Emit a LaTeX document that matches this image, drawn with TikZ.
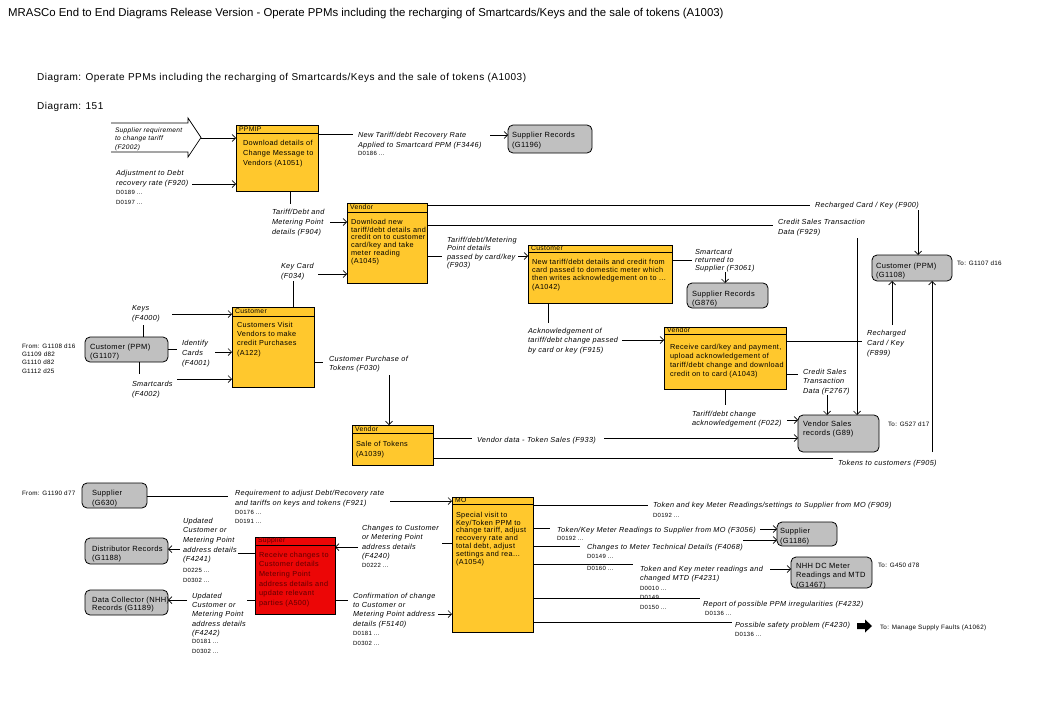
\documentclass[tikz,border=0pt]{standalone}
\usepackage{fontspec}
\setmainfont{Liberation Sans}[LetterSpace=5]
\newfontfamily\titlefont{Liberation Sans}
\usetikzlibrary{arrows.meta,fit}
\definecolor{ppmy}{RGB}{255,200,45}
\definecolor{ppmred}{RGB}{236,6,6}
\definecolor{ppmdred}{RGB}{95,0,0}
\definecolor{ppmgray}{RGB}{192,192,192}
\def\lsp{8.5}
\tikzset{
  ls/.code={\def\lsp{#1}},
  pbox/.style={draw=black, line width=0.8pt, fill=ppmy, inner sep=0pt, outer sep=0pt},
  rbox/.style={pbox, fill=ppmred},
  gbox/.style={draw=black, line width=0.8pt, fill=ppmgray, rounded corners=5pt, inner sep=0pt, outer sep=0pt},
  txt/.style={anchor=north west, inner sep=0pt, outer sep=0pt, align=left, font=\fontsize{7.3}{\lsp}\selectfont},
  rtxt/.style={txt, text=ppmdred},
  gtxt/.style={txt, font=\fontsize{7.5}{\lsp}\selectfont},
  lab/.style={txt, font=\fontsize{7.3}{\lsp}\selectfont\itshape},
  labs/.style={txt, font=\fontsize{6.6}{\lsp}\selectfont\itshape},
  dref/.style={txt, font=\fontsize{6}{\lsp}\selectfont},
  totxt/.style={txt, font=\fontsize{6.3}{\lsp}\selectfont},
  hdr/.style={anchor=west, inner sep=0pt, outer sep=0pt, font=\fontsize{6.8}{8}\selectfont},
  ln/.style={line width=0.7pt},
  arr/.style={ln, -{Straight Barb[length=3.5pt,width=7pt,line width=0.7pt]}},
}
% style, name, x, first-line centre y, line spacing, text
\newcommand{\TX}[6]{\node[#1, ls=#5] (#2) at ({#3},{#4-3.7}) {\rule{0pt}{6pt}#6};}
% style, name, x1, y1, x2, y2, header-band bottom, header
\newcommand{\PB}[8]{%
  \node[#1, fit={(#3,#4)(#5,#6)}] (#2) {};
  \draw[line width=0.6pt] (#2.west |- 0,#7) -- (#2.east |- 0,#7);
  \node[hdr] (#2h) at ({#3+3},{(#4+#7)/2}) {#8};}
\newcommand{\GB}[5]{\node[gbox, fit={(#2,#3)(#4,#5)}] (#1) {};}
\begin{document}
\begin{tikzpicture}[x=1pt,y=-1pt]
\useasboundingbox (0,0) rectangle (1040,720);
\fill[white] (0,0) rectangle (1040,720);

% titles
\node[anchor=west, inner sep=0pt, font=\titlefont\fontsize{11.4}{13}\selectfont] (title) at (8,14) {MRASCo End to End Diagrams Release Version - Operate PPMs including the recharging of Smartcards/Keys and the sale of tokens (A1003)};
\node[anchor=west, inner sep=0pt, font=\fontsize{10}{12}\selectfont] (diag) at (37,78) {Diagram: Operate PPMs including the recharging of Smartcards/Keys and the sale of tokens (A1003)};
\node[anchor=west, inner sep=0pt, font=\fontsize{10}{12}\selectfont] (diagno) at (37,107) {Diagram: 151};

% ---------- process boxes ----------
\PB{pbox}{ppmip}{236}{125}{318}{191}{133}{PPMIP}
\TX{txt}{ppmipT}{243}{143}{10}{Download details of\\Change Message to\\Vendors (A1051)}

\PB{pbox}{venA}{347}{203}{427}{283}{212}{Vendor}
\TX{txt}{venAT}{351}{222}{7.8}{Download new\\tariff/debt details and\\credit on to customer\\card/key and take\\meter reading\\(A1045)}

\PB{pbox}{custB}{528}{245}{672}{303}{252}{Customer}
\TX{txt}{custBT}{532}{262}{8.3}{New tariff/debt details and credit from\\card passed to domestic meter which\\then writes acknowledgement on to ...\\(A1042)}

\PB{pbox}{custA}{232}{307}{314}{387}{316}{Customer}
\TX{txt}{custAT}{237}{325}{9.3}{Customers Visit\\Vendors to make\\credit Purchases\\(A122)}

\PB{pbox}{venB}{664}{327}{786}{389}{334}{Vendor}
\TX{txt}{venBT}{670}{347}{9}{Receive card/key and payment,\\upload acknowledgement of\\tariff/debt change and download\\credit on to card (A1043)}

\PB{pbox}{venC}{352}{425}{433}{465}{433}{Vendor}
\TX{txt}{venCT}{356}{444}{10}{Sale of Tokens\\(A1039)}

\PB{pbox}{mo}{452}{497}{533}{632}{504}{MO}
\TX{txt}{moT}{456}{515}{7.8}{Special visit to\\Key/Token PPM to\\change tariff, adjust\\recovery rate and\\total debt, adjust\\settings and rea...\\(A1054)}

\node[rbox, fit={(255,537)(335,614)}] (supR) {};
\draw[line width=0.6pt] (supR.west |- 0,545) -- (supR.east |- 0,545);
\node[hdr, text=ppmdred] (supRh) at (258,541) {Supplier};
\TX{rtxt}{supRT}{259}{555}{9.6}{Receive changes to\\Customer details\\Metering Point\\address details and\\update relevant\\parties (A500)}

% ---------- record boxes ----------
\GB{srA}{508}{125}{592}{153}
\TX{gtxt}{srAT}{512}{135}{10}{Supplier Records\\(G1196)}
\GB{srB}{687}{283}{768}{308}
\TX{gtxt}{srBT}{692}{294}{9}{Supplier Records\\(G876)}
\GB{cpA}{872}{255}{952}{281}
\TX{gtxt}{cpAT}{876}{266}{9}{Customer (PPM)\\(G1108)}
\GB{cpB}{85}{337}{168}{362}
\TX{gtxt}{cpBT}{90}{347}{9}{Customer (PPM)\\(G1107)}
\GB{vs}{798}{415}{879}{452}
\TX{gtxt}{vsT}{803}{424}{9}{Vendor Sales\\records (G89)}
\GB{supA}{82}{483}{147}{508}
\TX{gtxt}{supAT}{92}{493}{10}{Supplier\\(G630)}
\GB{dr}{85}{538}{168}{564}
\TX{gtxt}{drT}{92}{549}{9}{Distributor Records\\(G1188)}
\GB{dc}{85}{590}{168}{615}
\TX{gtxt}{dcT}{92}{600}{8.5}{Data Collector (NHH)\\Records (G1189)}
\GB{supB}{777}{522}{837}{546}
\TX{gtxt}{supBT}{780}{531}{10}{Supplier\\(G1186)}
\GB{nhh}{791}{557}{872}{588}
\TX{gtxt}{nhhT}{796}{566}{9.5}{NHH DC Meter\\Readings and MTD\\(G1467)}

% ---------- references ----------
\TX{totxt}{fromA}{22}{346}{8.3}{From: G1108 d16\\G1109 d82\\G1110 d82\\G1112 d25}
\TX{totxt}{toA}{957}{263}{8}{To: G1107 d16}
\TX{totxt}{toB}{888}{424}{8}{To: G527 d17}
\TX{totxt}{toC}{878}{565}{8}{To: G450 d78}
\TX{totxt}{fromB}{22}{493}{8}{From: G1190 d77}
\TX{totxt}{toD}{880}{627}{8}{To: Manage Supply Faults (A1062)}

% ---------- external input ----------
\draw[ln] (111,123) -- (188,123) -- (188,118) -- (201,137.5) -- (188,157) -- (188,152) -- (111,152);
\coordinate (sigtip) at (201,138);
\TX{labs}{lF2002}{115}{130}{8.5}{Supplier requirement\\to change tariff\\(F2002)}
\draw[arr] (sigtip) -- (sigtip -| ppmip.west);

% F920
\TX{lab}{lF920}{116}{173}{10}{Adjustment to Debt\\recovery rate (F920)}
\TX{dref}{dF920}{116}{192}{10}{D0189 ...\\D0197 ...}
\draw[arr] (192,184) -- (ppmip.west |- 0,184);

% F3446
\draw[ln] (ppmip.east |- 0,134) -- (353,134);
\TX{lab}{lF3446}{358}{135}{10}{New Tariff/debt Recovery Rate\\Applied to Smartcard PPM (F3446)}
\TX{dref}{dF3446}{358}{153}{8}{D0186 ...}
\draw[arr] (490,135) -- (srA.west |- 0,135);

% F904
\draw[ln] (ppmip.south -| 290,0) -- (290,204);
\TX{lab}{lF904}{272}{212}{10}{Tariff/Debt and\\Metering Point\\details (F904)}
\draw[arr] (330,222) -- (venA.west |- 0,222);

% F034
\TX{lab}{lF034}{281}{266}{10}{Key Card\\(F034)}
\draw[arr] (318,274) -- (venA.west |- 0,274);
\draw[ln] (293,281) -- (custA.north -| 293,0);

% F903
\draw[ln] (venA.east |- 0,256) -- (442,256);
\TX{lab}{lF903}{447}{240}{8.4}{Tariff/debt/Metering\\Point details\\passed by card/key\\(F903)}
\draw[arr] (518,256) -- (custB.west |- 0,256);

% F900
\draw[ln] (venA.east |- 0,205) -- (810,205);
\TX{lab}{lF900}{815}{205}{8}{Recharged Card / Key (F900)}
\draw[arr] (918,210) -- (cpA.north -| 918,0);

% F929
\draw[ln] (venA.east |- 0,225) -- (773,225);
\TX{lab}{lF929}{778}{222}{10}{Credit Sales Transaction\\Data (F929)}
\draw[arr] (857,238) -- (vs.north -| 857,0);

% F3061
\draw[ln] (custB.east |- 0,260) -- (692,260);
\TX{lab}{lF3061}{695}{252}{8}{Smartcard\\returned to\\Supplier (F3061)}
\draw[arr] (725,272) -- (srB.north -| 725,0);

% F915
\draw[ln] (custB.south -| 548,0) -- (548,323);
\TX{lab}{lF915}{528}{331}{9.5}{Acknowledgement of\\tariff/debt change passed\\by card or key (F915)}
\draw[arr] (622,340) -- (venB.west |- 0,340);

% F899
\draw[ln] (venB.east |- 0,341) -- (862,341);
\TX{lab}{lF899}{867}{333}{10}{Recharged\\Card / Key\\(F899)}
\draw[arr] (892,325) -- (cpA.south -| 892,0);

% F2767
\draw[ln] (venB.east |- 0,374) -- (798,374);
\TX{lab}{lF2767}{803}{372}{9.5}{Credit Sales\\Transaction\\Data (F2767)}
\draw[arr] (827,395) -- (vs.north -| 827,0);

% F022
\draw[ln] (venB.south -| 725,0) -- (725,405);
\TX{lab}{lF022}{692}{414}{9}{Tariff/debt change\\acknowledgement (F022)}
\draw[arr] (787,420) -- (vs.west |- 0,420);

% F933
\draw[ln] (venC.east |- 0,438) -- (472,438);
\TX{lab}{lF933}{477}{440}{8}{Vendor data - Token Sales (F933)}
\draw[arr] (604,438) -- (vs.west |- 0,438);

% F905
\draw[ln] (venC.east |- 0,458) -- (833,458);
\TX{lab}{lF905}{838}{463}{8}{Tokens to customers (F905)}
\draw[arr] (932,452) -- (cpA.south -| 932,0);

% F030
\draw[ln] (custA.east |- 0,362) -- (323,362);
\TX{lab}{lF030}{329}{359}{9}{Customer Purchase of\\Tokens (F030)}
\draw[arr] (389,375) -- (venC.north -| 389,0);

% F4000
\draw[ln] (cpB.north -| 143,0) -- (143,325);
\TX{lab}{lF4000}{132}{308}{10}{Keys\\(F4000)}
\draw[arr] (172,314) -- (custA.west |- 0,314);

% F4001
\draw[ln] (cpB.east |- 0,349) -- (177,349);
\TX{lab}{lF4001}{182}{343}{10}{Identify\\Cards\\(F4001)}
\draw[arr] (215,352) -- (custA.west |- 0,352);

% F4002
\draw[ln] (cpB.south -| 139,0) -- (139,374);
\TX{lab}{lF4002}{132}{384}{10}{Smartcards\\(F4002)}
\draw[arr] (177,379) -- (custA.west |- 0,379);

% ---------- lower part ----------
% F921
\draw[ln] (supA.east |- 0,496) -- (228,496);
\TX{lab}{lF921}{235}{493}{10}{Requirement to adjust Debt/Recovery rate\\and tariffs on keys and tokens (F921)}
\TX{dref}{dF921}{235}{512}{9}{D0176 ...\\D0191 ...}
\draw[arr] (390,501) -- (mo.west |- 0,501);

% F4240
\draw[ln] (mo.west |- 0,543) -- (442,543);
\TX{lab}{lF4240}{362}{528}{9.5}{Changes to Customer\\or Metering Point\\address details\\(F4240)}
\TX{dref}{dF4240}{362}{565}{8}{D0222 ...}
\draw[arr] (358,547) -- (supR.east |- 0,547);

% F5140
\draw[ln] (supR.east |- 0,600) -- (348,600);
\TX{lab}{lF5140}{353}{596}{9.3}{Confirmation of change\\to Customer or\\Metering Point address\\details (F5140)}
\TX{dref}{dF5140}{353}{633}{10}{D0181 ...\\D0302 ...}
\draw[arr] (438,614) -- (mo.west |- 0,614);

% F4241
\draw[ln] (supR.west |- 0,553) -- (238,553);
\TX{lab}{lF4241}{183}{521}{9.6}{Updated\\Customer or\\Metering Point\\address details\\(F4241)}
\TX{dref}{dF4241}{183}{570}{10}{D0225 ...\\D0302 ...}
\draw[arr] (180,549) -- (dr.east |- 0,549);

% F4242
\draw[ln] (supR.west |- 0,600) -- (247,600);
\TX{lab}{lF4242}{192}{596}{9.3}{Updated\\Customer or\\Metering Point\\address details\\(F4242)}
\TX{dref}{dF4242}{192}{641}{10}{D0181 ...\\D0302 ...}
\draw[arr] (187,600) -- (dc.east |- 0,600);

% F909
\draw[ln] (mo.east |- 0,505) -- (648,505);
\TX{lab}{lF909}{653}{505}{8}{Token and key Meter Readings/settings to Supplier from MO (F909)}
\TX{dref}{dF909}{653}{515}{8}{D0192 ...}

% F3056
\draw[ln] (mo.east |- 0,528) -- (550,528);
\TX{lab}{lF3056}{557}{530}{8}{Token/Key Meter Readings to Supplier from MO (F3056)}
\TX{dref}{dF3056}{557}{538}{8}{D0192 ...}
\draw[arr] (760,529) -- (supB.west |- 0,529);

% F4068
\draw[ln] (mo.east |- 0,546) -- (580,546);
\TX{lab}{lF4068}{587}{547}{8}{Changes to Meter Technical Details (F4068)}
\TX{dref}{dF4068}{587}{556}{12}{D0149 ...\\D0160 ...}
\draw[arr] (743,540) -- (supB.west |- 0,540);

% F4231
\draw[ln] (mo.east |- 0,564) -- (633,564);
\TX{lab}{lF4231}{640}{569}{9}{Token and Key meter readings and\\changed MTD (F4231)}
\TX{dref}{dF4231}{640}{588}{9.5}{D0010 ...\\D0149\\D0150 ...}
\draw[arr] (770,569) -- (nhh.west |- 0,569);

% F4232
\draw[ln] (mo.east |- 0,598) -- (700,598);
\TX{lab}{lF4232}{703}{604}{8}{Report of possible PPM irregularities (F4232)}
\TX{dref}{dF4232}{705}{613}{8}{D0136 ...}

% F4230
\draw[ln] (mo.east |- 0,622) -- (732,622);
\TX{lab}{lF4230}{735}{625}{8}{Possible safety problem (F4230)}
\TX{dref}{dF4230}{735}{634}{8}{D0136 ...}
\fill[black] (857,623) -- (865,623) -- (865,619.5) -- (872,626) -- (865,632.5) -- (865,629) -- (857,629) -- cycle;
\end{tikzpicture}
\end{document}
